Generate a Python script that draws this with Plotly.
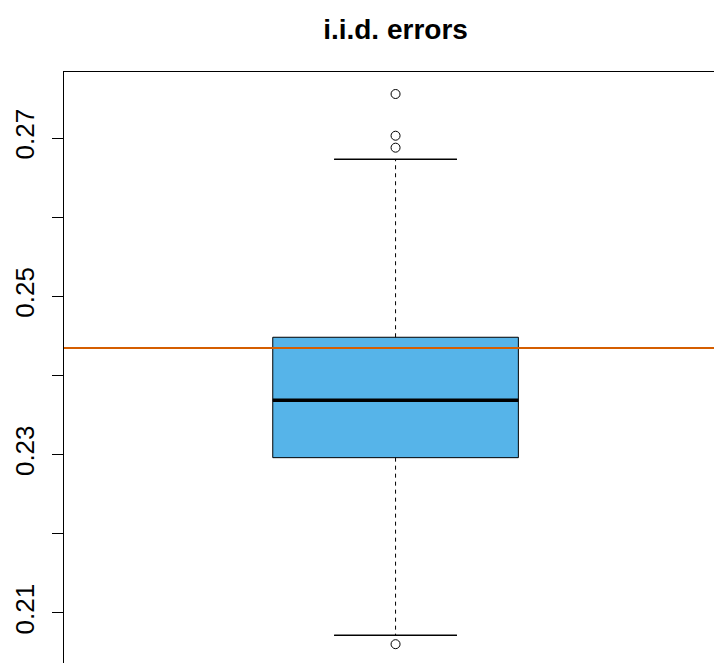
import plotly.graph_objects as go

# ---- data ----
title_text = "i.i.d. errors"
box_pos = [1]
q1 = [0.22962]
median = [0.23687]
q3 = [0.24483]
lower_whisker = [0.20718]
upper_whisker = [0.26731]
outliers = [0.27556, 0.27029, 0.26878, 0.20606]
reference_value = 0.24347
tick_values = [0.21, 0.22, 0.23, 0.24, 0.25, 0.26, 0.27]
tick_labels = ["0.21", "", "0.23", "", "0.25", "", "0.27"]

BOX_FILL = "#56B4E9"
REF_COLOR = "#D55E00"
FONT = "Liberation Sans, Arial, Helvetica, sans-serif"

fig = go.Figure()

# dashed whiskers
fig.add_trace(go.Scatter(
    x=[box_pos[0], box_pos[0], None, box_pos[0], box_pos[0]],
    y=[q3[0], upper_whisker[0], None, q1[0], lower_whisker[0]],
    mode="lines", line=dict(color="black", width=1, dash="4px,4px"),
    hoverinfo="skip", showlegend=False))

# whisker caps (degenerate boxes)
for v in (upper_whisker, lower_whisker):
    fig.add_trace(go.Box(
        x=box_pos, q1=v, median=v, q3=v, lowerfence=v, upperfence=v,
        width=0.2, whiskerwidth=0, fillcolor="rgba(0,0,0,0)",
        line=dict(color="black", width=1), boxpoints=False, showlegend=False))

# main box
fig.add_trace(go.Box(
    x=box_pos, q1=q1, median=median, q3=q3, lowerfence=q1, upperfence=q3,
    width=0.4, whiskerwidth=0, fillcolor=BOX_FILL,
    line=dict(color="black", width=1), boxpoints=False, showlegend=False))

# thick median
fig.add_trace(go.Box(
    x=box_pos, q1=median, median=median, q3=median, lowerfence=median, upperfence=median,
    width=0.4, whiskerwidth=0, fillcolor="rgba(0,0,0,0)",
    line=dict(color="black", width=3.5), boxpoints=False, showlegend=False))

# outliers
fig.add_trace(go.Scatter(
    x=box_pos * len(outliers), y=outliers, mode="markers",
    marker=dict(symbol="circle-open", size=9, color="black", line=dict(width=1)),
    showlegend=False))

fig.add_hline(y=reference_value, line=dict(color=REF_COLOR, width=2))

# the page body adds an 8px offset; compensate so the plot lands where the reference has it
fig.update_layout(
    width=722, height=663,
    margin=dict(l=56, r=0, t=64, b=0, autoexpand=False),
    plot_bgcolor="white", paper_bgcolor="white",
    showlegend=False,
    boxmode="overlay",
    title=dict(text="<b>" + title_text + "</b>", x=387.5 / 722, xanchor="center",
               y=1 - 21 / 663, yanchor="middle",
               font=dict(family=FONT, size=28, color="black")),
    font=dict(family=FONT, color="black"),
)
fig.update_xaxes(range=[0.46, 0.46 + 666 / 614], showticklabels=False, ticks="", showgrid=False,
                 zeroline=False, showline=True, linecolor="black", linewidth=1, side="top")
fig.update_yaxes(range=[0.20267, 0.27834], tickvals=tick_values, ticktext=tick_labels,
                 ticks="outside", ticklen=11, tickcolor="black", tickwidth=1,
                 showline=True, linecolor="black", linewidth=1, showgrid=False,
                 zeroline=False, tickangle=-90, ticklabelstandoff=8,
                 tickfont=dict(family=FONT, size=26, color="black"))

fig.write_html("out.html")
